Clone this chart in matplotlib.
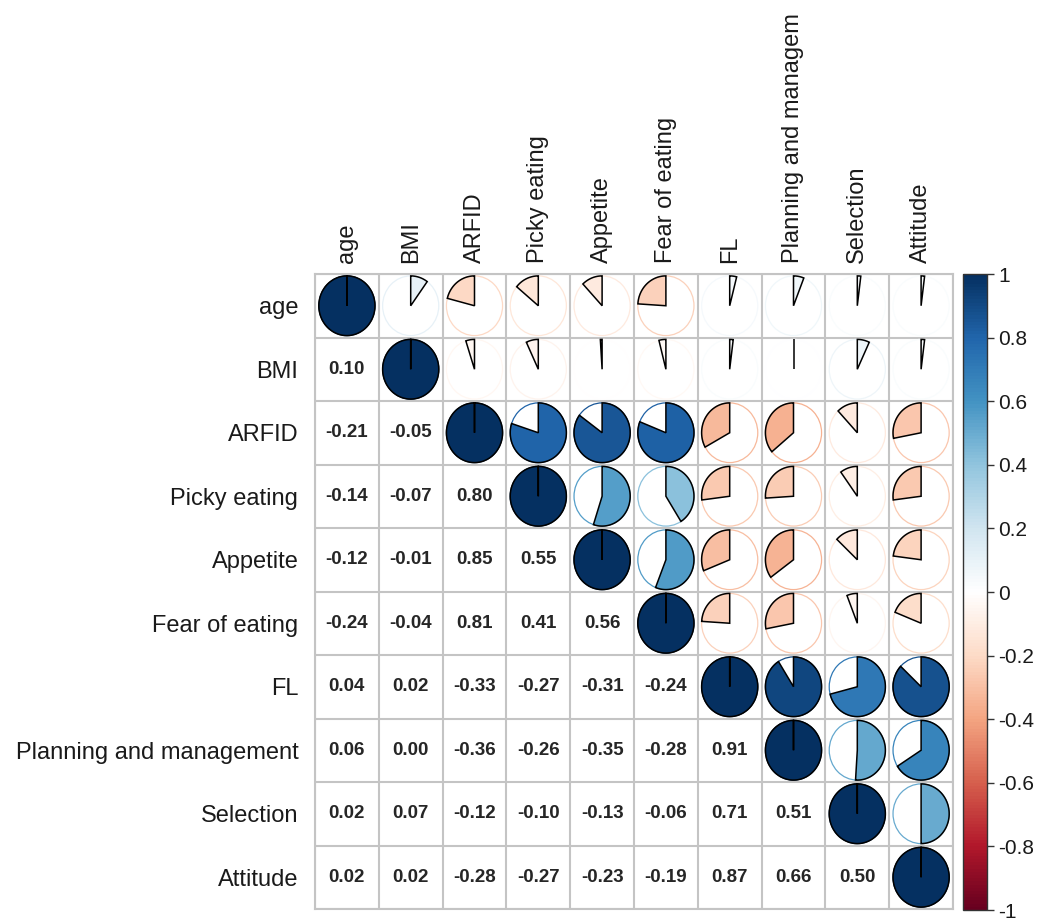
import numpy as np
import matplotlib as mpl
import matplotlib.pyplot as plt
from matplotlib.colors import LinearSegmentedColormap, Normalize
from matplotlib.patches import Ellipse, Polygon

plt.rcParams['font.family'] = ['Liberation Sans', 'DejaVu Sans']

# -------- Data ----------
variables = ['age', 'BMI', 'ARFID', 'Picky eating', 'Appetite', 'Fear of eating',
             'FL', 'Planning and management', 'Selection', 'Attitude']
# top labels (the long one is shortened)
col_labels = ['age', 'BMI', 'ARFID', 'Picky eating', 'Appetite', 'Fear of eating',
              'FL', 'Planning and managem', 'Selection', 'Attitude']

# lower triangle, row by row (row k holds correlations with the first k variables)
lower_rows = [
    [0.10],
    [-0.21, -0.05],
    [-0.14, -0.07, 0.80],
    [-0.12, -0.01, 0.85, 0.55],
    [-0.24, -0.04, 0.81, 0.41, 0.56],
    [0.04, 0.02, -0.33, -0.27, -0.31, -0.24],
    [0.06, 0.00, -0.36, -0.26, -0.35, -0.28, 0.91],
    [0.02, 0.07, -0.12, -0.10, -0.13, -0.06, 0.71, 0.51],
    [0.02, 0.02, -0.28, -0.27, -0.23, -0.19, 0.87, 0.66, 0.50],
]

colorbar_ticks = [-1, -0.8, -0.6, -0.4, -0.2, 0, 0.2, 0.4, 0.6, 0.8, 1]

n = len(variables)
corr = np.eye(n)
for k, row in enumerate(lower_rows, start=1):
    for j, v in enumerate(row):
        corr[k, j] = v
        corr[j, k] = v

# RdBu palette as used by corrplot
rdbu = ['#67001F', '#B2182B', '#D6604D', '#F4A582', '#FDDBC7', '#FFFFFF',
        '#D1E5F0', '#92C5DE', '#4393C3', '#2166AC', '#053061']
cmap = LinearSegmentedColormap.from_list('corr_rdbu', rdbu, N=200)
norm = Normalize(-1, 1)

# -------- Figure ----------
W, H = 1037, 918
fig = plt.figure(figsize=(W / 100, H / 100), dpi=100)
ax = fig.add_axes([315 / W, 1 - 909 / H, 638 / W, 635 / H])
cax = fig.add_axes([963 / W, 1 - 910 / H, 24 / W, 636 / H])

rx, ry = 0.44, 0.47
grid_col = '#C4C4C4'

for i in range(n):
    for j in range(n):
        r = corr[i, j]
        if j < i:
            ax.text(j, i, f'{r:.2f}', ha='center', va='center',
                    fontsize=13.5, fontweight='bold', color='#262626')
            continue
        col = cmap(norm(r))
        # faint outline circle in the value's colour
        ax.add_patch(Ellipse((j, i), 2 * rx, 2 * ry, facecolor='white',
                             edgecolor=col, lw=0.9, zorder=2))
        # pie wedge from 12 o'clock, clockwise for positive values
        theta = np.radians(np.linspace(90, 90 - 360 * r, 120))
        pts = [(j, i)] + list(zip(j + rx * np.cos(theta), i - ry * np.sin(theta)))
        ax.add_patch(Polygon(pts, closed=True, facecolor=col,
                             edgecolor='black', lw=1.1, zorder=3))

ax.set_xlim(-0.5, n - 0.5)
ax.set_ylim(n - 0.5, -0.5)

ax.set_xticks(np.arange(n + 1) - 0.5, minor=True)
ax.set_yticks(np.arange(n + 1) - 0.5, minor=True)
ax.grid(which='minor', color=grid_col, lw=1.5)
ax.set_axisbelow(True)
for s in ax.spines.values():
    s.set_color(grid_col)
    s.set_linewidth(1.5)

ax.xaxis.tick_top()
ax.set_xticks(range(n))
ax.set_xticklabels(col_labels, rotation=90, fontsize=17, color='#1a1a1a')
ax.set_yticks(range(n))
ax.set_yticklabels(variables, fontsize=17, color='#1a1a1a')
ax.tick_params(axis='x', which='both', length=0, pad=8)
ax.tick_params(axis='y', which='both', length=0, pad=12)

# -------- Colour legend ----------
cb = mpl.colorbar.ColorbarBase(cax, cmap=cmap, norm=norm, ticks=colorbar_ticks)
cb.ax.set_yticklabels([f'{t:g}' for t in colorbar_ticks], fontsize=15, color='#1a1a1a')
cb.ax.tick_params(length=5, width=1, pad=3, color='#333333')
cb.outline.set_edgecolor('#333333')
cb.outline.set_linewidth(1)

fig.savefig('out.png', dpi=100)
